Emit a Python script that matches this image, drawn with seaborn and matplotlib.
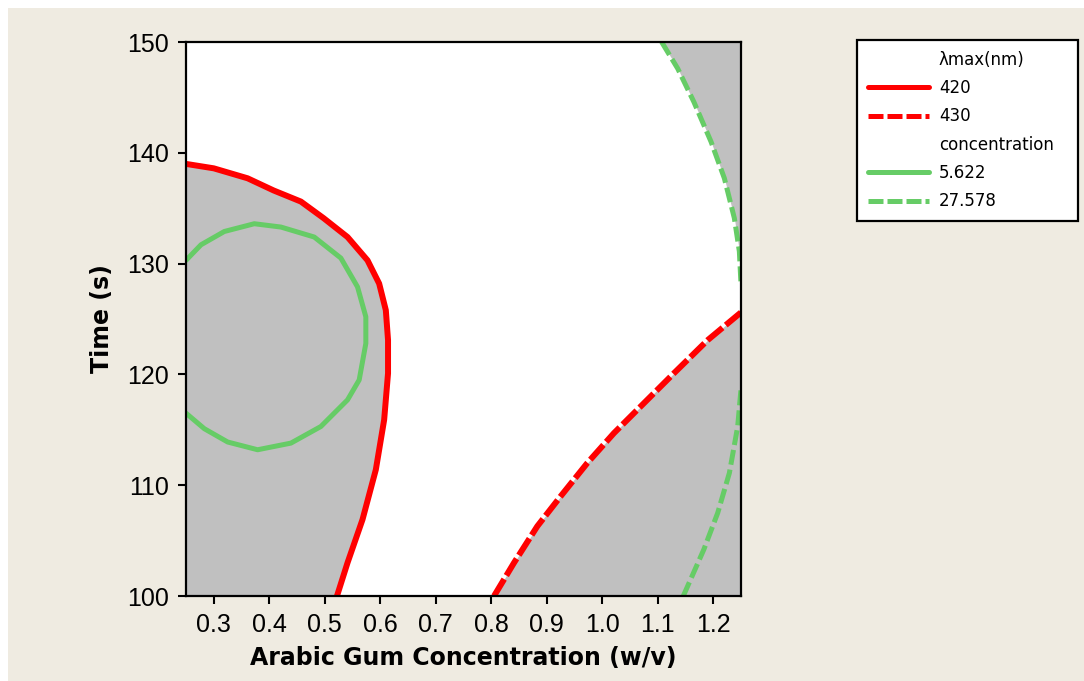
import numpy as np
import pandas as pd
import matplotlib.pyplot as plt
import seaborn as sns
from matplotlib.lines import Line2D
from matplotlib.patches import Rectangle

# Overlaid contour plot (Minitab style): lambda max and concentration
# contour lines, x = Arabic gum (w/v), y = time (s)

# lambda max = 420 nm, solid red
red420_x = [0.250, 0.300, 0.361, 0.408, 0.457, 0.498, 0.541, 0.577, 0.598,
            0.610, 0.614, 0.614, 0.607, 0.592, 0.568, 0.541, 0.522]
red420_y = [139.0, 138.6, 137.7, 136.6, 135.6, 134.1, 132.4, 130.3, 128.2,
            125.8, 123.1, 120.1, 115.9, 111.4, 106.9, 103.0, 100.0]

# lambda max = 430 nm, dashed red
red430_x = [0.805, 0.841, 0.883, 0.925, 0.973, 1.021, 1.069, 1.129, 1.190, 1.250]
red430_y = [100.0, 103.0, 106.3, 109.0, 112.0, 114.7, 117.1, 120.1, 123.1, 125.6]

# concentration = 5.622, solid green
green5_x = [0.250, 0.277, 0.319, 0.373, 0.421, 0.481, 0.529, 0.559, 0.574,
            0.574, 0.562, 0.541, 0.493, 0.439, 0.379, 0.325, 0.283, 0.250]
green5_y = [130.3, 131.7, 132.9, 133.6, 133.3, 132.4, 130.5, 127.9, 125.2,
            122.8, 119.5, 117.7, 115.3, 113.8, 113.2, 113.9, 115.1, 116.5]

# concentration = 27.578, dashed green (two branches)
green27a_x = [1.107, 1.136, 1.165, 1.196, 1.220, 1.238, 1.247, 1.250]
green27a_y = [150.0, 147.6, 144.6, 141.0, 137.7, 134.1, 131.1, 128.1]
green27b_x = [1.146, 1.183, 1.208, 1.229, 1.244, 1.250]
green27b_y = [100.0, 104.2, 107.5, 111.1, 115.3, 118.7]

x_ticks = [0.3, 0.4, 0.5, 0.6, 0.7, 0.8, 0.9, 1.0, 1.1, 1.2]
y_ticks = [100, 110, 120, 130, 140, 150]

RED = "#FF0000"
GREEN = "#66CC66"
SHADE = "#C0C0C0"
BEIGE = "#EFEBE1"

sns.set_theme(style="ticks")
plt.rcParams['font.family'] = ['Liberation Sans', 'DejaVu Sans']
plt.rcParams['text.color'] = 'black'
plt.rcParams['axes.labelcolor'] = 'black'

fig = plt.figure(figsize=(10.84, 6.81), dpi=100, facecolor="white")
fig.add_artist(Rectangle((8 / 1084, -0.01), 1.01, 1.01 - 8 / 681, transform=fig.transFigure,
                         facecolor=BEIGE, lw=0, zorder=-10))
ax = fig.add_axes([0.1716, 0.1248, 0.512, 0.8135])
ax.set_facecolor("white")

# shaded (infeasible) regions
ax.fill_betweenx(red420_y, 0.25, red420_x, color=SHADE, lw=0)
ax.fill_between(red430_x, 100, red430_y, color=SHADE, lw=0)
ax.fill_betweenx(green27a_y, green27a_x, 1.25, color=SHADE, lw=0)

curves = [
    (green5_x, green5_y, GREEN, "-", 3.6),
    (green27a_x, green27a_y, GREEN, (0, (3, 1)), 3.6),
    (green27b_x, green27b_y, GREEN, (0, (3, 1)), 3.6),
    (red420_x, red420_y, RED, "-", 4.3),
    (red430_x, red430_y, RED, (0, (3.3, 0.7)), 4.3),
]
for cx, cy, col, ls, lw in curves:
    df = pd.DataFrame({"x": cx, "y": cy})
    sns.lineplot(data=df, x="x", y="y", sort=False, estimator=None, ax=ax,
                 color=col, linestyle=ls, linewidth=lw)

ax.set_xlim(0.25, 1.25)
ax.set_ylim(100, 150)
ax.set_xticks(x_ticks)
ax.set_xticklabels([f"{t:.1f}" for t in x_ticks])
ax.set_yticks(y_ticks)
ax.tick_params(length=6, width=1.5, pad=6, labelsize=18, colors="black")
for sp in ax.spines.values():
    sp.set_visible(True)
    sp.set_linewidth(1.6)
    sp.set_color("black")

ax.set_xlabel("Arabic Gum Concentration (w/v)", fontsize=17, fontweight="bold",
              family="DejaVu Sans", labelpad=7)
ax.set_ylabel("Time (s)", fontsize=17, fontweight="bold", family="DejaVu Sans", labelpad=10)

blank = Line2D([], [], color="none")
handles = [blank,
           Line2D([], [], color=RED, lw=3.6),
           Line2D([], [], color=RED, lw=3.6, ls=(0, (3, 0.8))),
           blank,
           Line2D([], [], color=GREEN, lw=3.6),
           Line2D([], [], color=GREEN, lw=3.6, ls=(0, (3, 0.8)))]
labels = ["λmax(nm)", "420", "430", "concentration", "5.622", "27.578"]
leg = fig.legend(handles, labels, loc="upper left", bbox_to_anchor=(0.7906, 0.8413, 0.204, 0.1),
                 mode="expand", prop={"family": "DejaVu Sans", "size": 12},
                 handlelength=3.66, handletextpad=0.6,
                 labelspacing=0.62, borderpad=0.65, borderaxespad=0,
                 frameon=True, fancybox=False)
leg.get_frame().set_edgecolor("black")
leg.get_frame().set_linewidth(1.6)
leg.get_frame().set_facecolor("white")
leg.get_frame().set_alpha(1)

fig.savefig("out.png", dpi=100, facecolor=fig.get_facecolor())
